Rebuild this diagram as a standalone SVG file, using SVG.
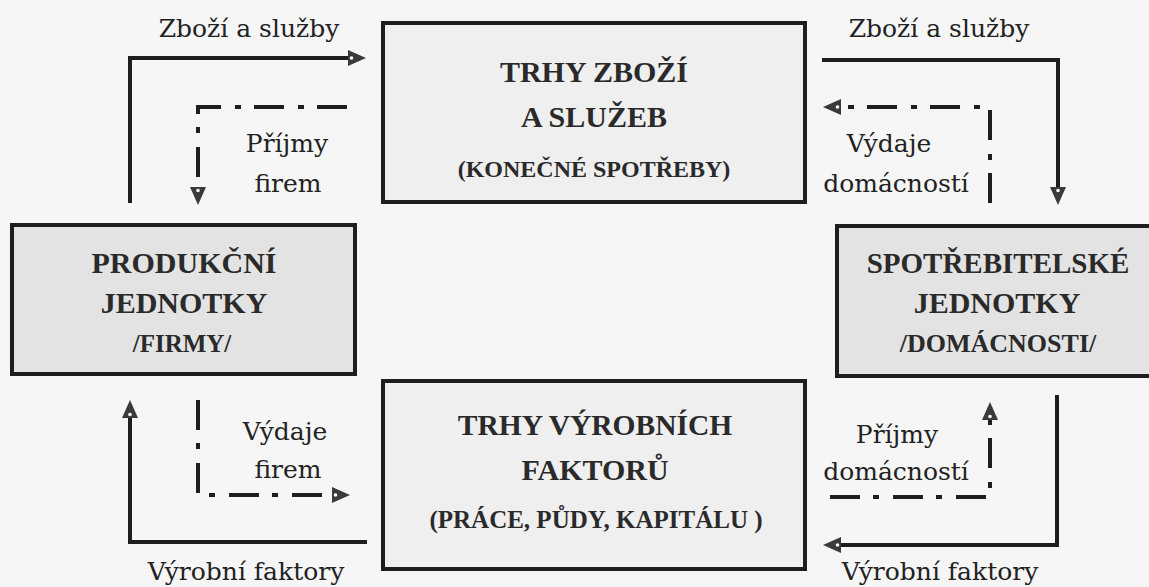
<svg xmlns="http://www.w3.org/2000/svg" width="1149" height="587" viewBox="0 0 1149 587">
<style>
.bg{fill:#f6f6f6}
.box{stroke:#1e1e1e;stroke-width:4}
.light{fill:#efefef}
.dark{fill:#e3e3e3}
.title{font-family:"Liberation Serif",serif;font-weight:bold;fill:#2a2a2a;text-anchor:middle}
.lbl{font-family:"DejaVu Serif",serif;font-size:25px;fill:#222;text-anchor:middle}
.solid{fill:none;stroke:#1e1e1e;stroke-width:4}
.dash{fill:none;stroke:#1e1e1e;stroke-width:4;stroke-dasharray:30 13 6 14}
</style>
<defs>
<marker id="ah" viewBox="0 0 18 16" refX="2" refY="8" markerWidth="18" markerHeight="16" markerUnits="userSpaceOnUse" orient="auto">
<path d="M0,0 L18,8 L0,16 Z" fill="#3a3a3a"/>
<circle cx="3.5" cy="8" r="1.8" fill="#fff"/>
</marker>
</defs>
<rect class="bg" x="0" y="0" width="1149" height="587"/>

<g id="node-trhy-zbozi">
<rect class="box light" x="383" y="23" width="422" height="179"/>
<text class="title" x="594" y="82" font-size="30">TRHY ZBOŽÍ</text>
<text class="title" x="594" y="127" font-size="30">A SLUŽEB</text>
<text class="title" x="594" y="177" font-size="24">(KONEČNÉ SPOTŘEBY)</text>
</g>

<g id="node-produkcni">
<rect class="box dark" x="12" y="225" width="343" height="149"/>
<text class="title" x="184" y="273" font-size="30">PRODUKČNÍ</text>
<text class="title" x="184" y="313" font-size="30">JEDNOTKY</text>
<text class="title" x="182" y="352" font-size="25">/FIRMY/</text>
</g>

<g id="node-spotrebitelske">
<rect class="box dark" x="837" y="226" width="325" height="150"/>
<text class="title" x="998" y="273" font-size="29">SPOTŘEBITELSKÉ</text>
<text class="title" x="997" y="313" font-size="30">JEDNOTKY</text>
<text class="title" x="998" y="352" font-size="26">/DOMÁCNOSTI/</text>
</g>

<g id="node-trhy-faktoru">
<rect class="box light" x="383" y="381" width="422" height="188"/>
<text class="title" x="595" y="435" font-size="29.5">TRHY VÝROBNÍCH</text>
<text class="title" x="595" y="480" font-size="30">FAKTORŮ</text>
<text class="title" x="596" y="528" font-size="25">(PRÁCE, PŮDY, KAPITÁLU )</text>
</g>

<g id="connectors">
<path class="solid" d="M130,203 L130,58 L350,58" marker-end="url(#ah)"/>
<path class="dash" d="M347,107 L198,107 L198,189" marker-end="url(#ah)"/>
<path class="solid" d="M822,60 L1058,60 L1058,189" marker-end="url(#ah)"/>
<path class="dash" d="M990,203 L990,107 L839,107" marker-end="url(#ah)"/>
<path class="solid" d="M367,542 L130,542 L130,416" marker-end="url(#ah)"/>
<path class="dash" d="M198,400 L198,495 L334,495" marker-end="url(#ah)"/>
<path class="solid" d="M1057,395 L1057,545 L839,545" marker-end="url(#ah)"/>
<path class="dash" d="M830,497 L990,497 L990,418" marker-end="url(#ah)"/>
</g>

<g id="labels">
<text class="lbl" x="249" y="37">Zboží a služby</text>
<text class="lbl" x="287" y="152">Příjmy</text>
<text class="lbl" x="288" y="192">firem</text>
<text class="lbl" x="939" y="37">Zboží a služby</text>
<text class="lbl" x="889" y="152">Výdaje</text>
<text class="lbl" x="896" y="192">domácností</text>
<text class="lbl" x="285" y="440">Výdaje</text>
<text class="lbl" x="288" y="478">firem</text>
<text class="lbl" x="246" y="580">Výrobní faktory</text>
<text class="lbl" x="897" y="443">Příjmy</text>
<text class="lbl" x="896" y="480">domácností</text>
<text class="lbl" x="940" y="580">Výrobní faktory</text>
</g>
</svg>
